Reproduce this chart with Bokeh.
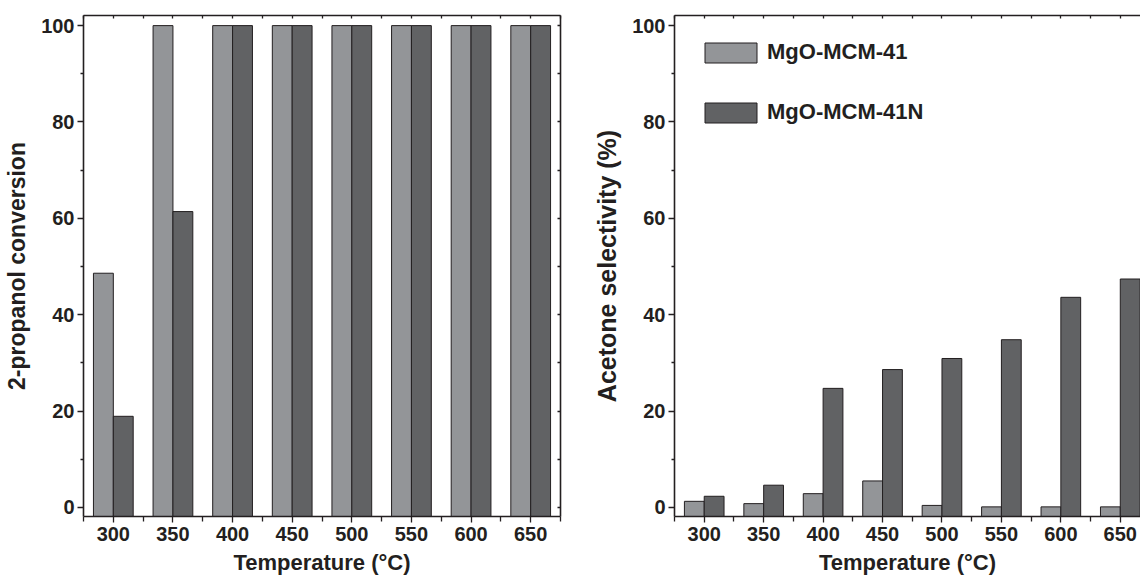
from bokeh.plotting import figure
from bokeh.layouts import row
from bokeh.models import (ColumnDataSource, FixedTicker, LinearAxis, Range1d,
                          Legend, LegendItem)
from bokeh.transform import dodge
from bokeh.embed import file_html
from bokeh.resources import INLINE

# Reaction temperatures (°C)
temperatures = ["300", "350", "400", "450", "500", "550", "600", "650"]

# 2-propanol conversion (%)
conversion_mcm41 = [48.6, 100, 100, 100, 100, 100, 100, 100]
conversion_mcm41n = [18.9, 61.4, 100, 100, 100, 100, 100, 100]

# Acetone selectivity (%)
selectivity_mcm41 = [1.25, 0.77, 2.84, 5.48, 0.4, 0.1, 0.1, 0.1]
selectivity_mcm41n = [2.3, 4.6, 24.7, 28.6, 30.9, 34.8, 43.6, 47.4]

series_names = ["MgO-MCM-41", "MgO-MCM-41N"]
y_ticks = [0, 20, 40, 60, 80, 100]
y_minor_ticks = [10, 30, 50, 70, 90]

FONT = "Liberation Sans"
INK = "#231f20"
LIGHT = "#939598"
DARK = "#616264"
Y_START, Y_END = -1.9, 102.1


def x_ticker():
    n = len(temperatures)
    return FixedTicker(ticks=list(range(n)),
                       minor_ticks=[i - 0.5 for i in range(n + 1)])


def y_ticker():
    return FixedTicker(ticks=y_ticks, minor_ticks=y_minor_ticks)


def style_axis(ax, labels=True):
    ax.axis_line_color = INK
    ax.axis_line_width = 1.6
    ax.major_tick_line_color = INK
    ax.minor_tick_line_color = INK
    ax.major_tick_line_width = 1.3
    ax.minor_tick_line_width = 1.3
    ax.major_label_text_font = FONT
    ax.major_label_text_font_style = "bold"
    ax.major_label_text_font_size = "20px"
    ax.major_label_text_color = INK
    ax.axis_label_text_font = FONT
    ax.axis_label_text_font_style = "bold"
    ax.axis_label_text_font_size = "22px"
    ax.axis_label_text_color = INK
    if not labels:
        ax.major_label_text_font_size = "0px"
        ax.major_label_standoff = 0
        ax.major_tick_out = 0
        ax.minor_tick_out = 0
        ax.major_tick_in = 3
        ax.minor_tick_in = 3


def make_panel(a_vals, b_vals, ylabel, ylabel_size, width, x_end, border_right, right_axis):
    idx = list(range(len(temperatures)))
    src = ColumnDataSource(dict(idx=idx, a=a_vals, b=b_vals))
    p = figure(width=width, height=579,
               x_range=Range1d(-0.5, x_end), y_range=Range1d(Y_START, Y_END),
               output_backend="svg", toolbar_location=None,
               x_axis_location=None, y_axis_location=None,
               min_border_left=83, min_border_right=border_right,
               min_border_top=15, min_border_bottom=63)
    p.outline_line_color = None
    p.xgrid.visible = False
    p.ygrid.visible = False
    p.background_fill_color = "white"
    p.border_fill_color = "white"

    ra = p.vbar(x=dodge("idx", -1 / 6), top="a", bottom=Y_START, width=1 / 3,
                source=src, fill_color=LIGHT, line_color=INK, line_width=1)
    rb = p.vbar(x=dodge("idx", 1 / 6), top="b", bottom=Y_START, width=1 / 3,
                source=src, fill_color=DARK, line_color=INK, line_width=1)

    xb = LinearAxis(ticker=x_ticker(), axis_label="Temperature (°C)",
                    major_label_overrides={i: t for i, t in enumerate(temperatures)})
    style_axis(xb)
    xb.major_tick_in = 0
    xb.minor_tick_in = 0
    xb.major_tick_out = 6
    xb.minor_tick_out = 5
    xb.major_label_standoff = 4
    xb.axis_label_standoff = 6
    p.add_layout(xb, "below")

    yl = LinearAxis(ticker=y_ticker(), axis_label=ylabel)
    style_axis(yl)
    yl.axis_label_text_font_size = ylabel_size
    yl.major_tick_in = 0
    yl.minor_tick_in = 0
    yl.major_tick_out = 6
    yl.minor_tick_out = 3
    yl.major_label_standoff = 3
    yl.axis_label_standoff = 8
    p.add_layout(yl, "left")

    xt = LinearAxis(ticker=x_ticker(), major_label_overrides={i: "" for i in idx})
    style_axis(xt, labels=False)
    p.add_layout(xt, "above")

    if right_axis:
        yr = LinearAxis(ticker=y_ticker(), major_label_overrides={t: "" for t in y_ticks})
        style_axis(yr, labels=False)
        p.add_layout(yr, "right")
    return p, ra, rb


left, _, _ = make_panel(conversion_mcm41, conversion_mcm41n, "2-propanol conversion", "23px",
                        width=590, x_end=7.5, border_right=30, right_axis=True)
right, r1, r2 = make_panel(selectivity_mcm41, selectivity_mcm41n, "Acetone selectivity (%)", "25px",
                           width=550, x_end=7.34, border_right=0, right_axis=False)

legend = Legend(items=[LegendItem(label=series_names[0], renderers=[r1]),
                       LegendItem(label=series_names[1], renderers=[r2])],
                location="top_left", margin=24, padding=0, spacing=34,
                glyph_width=65, glyph_height=25, label_standoff=4,
                border_line_color=None, background_fill_alpha=0,
                label_text_font=FONT, label_text_font_style="bold",
                label_text_font_size="22px", label_text_color=INK)
right.add_layout(legend)

layout = row(left, right)
open("out.html", "w").write(file_html(layout, INLINE))
